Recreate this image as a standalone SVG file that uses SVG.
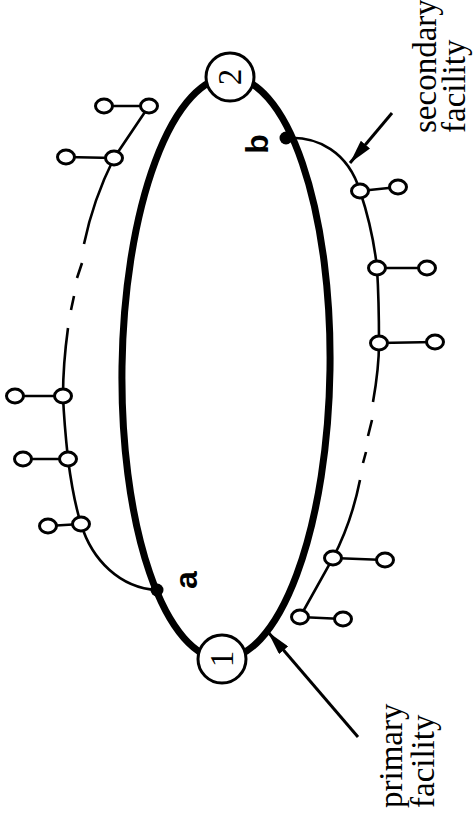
<svg xmlns="http://www.w3.org/2000/svg" width="476" height="823" viewBox="0 0 476 823">
<style>
.ring{fill:none;stroke:#000;stroke-width:7}
.wire{fill:none;stroke:#000;stroke-width:2.6;stroke-linecap:butt}
.arrow{fill:none;stroke:#000;stroke-width:3}
.big{fill:#fff;stroke:#000;stroke-width:3}
.small{fill:#fff;stroke:#000;stroke-width:3}
.dot{fill:#000}
.lbl{font-family:"Liberation Serif","Times New Roman",serif;font-size:33px;fill:#000}
.num{font-family:"Liberation Serif","Times New Roman",serif;font-size:33px;fill:#000;text-anchor:middle}
.pt{font-family:"Liberation Sans",Arial,sans-serif;font-weight:bold;font-size:32px;fill:#000;text-anchor:middle}
</style>
<defs>
<marker id="ah" viewBox="0 0 24 12" refX="24" refY="6" markerWidth="24" markerHeight="12" markerUnits="userSpaceOnUse" orient="auto">
<path d="M0,0 L24,6 L0,12 z" fill="#000"/>
</marker>
</defs>
<g id="connectors">
<ellipse class="ring" cx="226" cy="368" rx="104" ry="291" transform="rotate(0.8 226 368)"/>
<!-- secondary facility branch -->
<path class="wire" d="M286,138 C318,136 348,152 360,191 C368,215 374,240 377,268 Q379,300 379,343 C379,365 376,385 373,402"/>
<path class="wire" d="M372,420 L368,436 M366,452 L363,463"/>
<path class="wire" d="M360,480 C354,510 345,535 333,558 L300,617"/>
<!-- primary facility branch -->
<path class="wire" d="M149,106 L114,158 C102,182 90,215 84,244"/>
<path class="wire" d="M82,263 L77,278 M74,296 L71,310"/>
<path class="wire" d="M68,328 C65,350 63,375 63,396 C64,420 66,440 68,459 C71,482 75,505 81,524 C92,560 120,588 157,590"/>
<!-- pendants -->
<path class="wire" d="M360,191 L398,187 M377,268 L427,268 M379,343 L435,342 M333,558 L385,560 M300,617 L343,619"/>
<path class="wire" d="M149,106 L104,106 M114,158 L66,157 M63,396 L15,396 M68,459 L23,459 M81,524 L48,526"/>
<!-- arrows -->
<line class="arrow" x1="392" y1="113" x2="350" y2="163" marker-end="url(#ah)"/>
<line class="arrow" x1="358" y1="737" x2="268" y2="632" marker-end="url(#ah)"/>
</g>
<g id="node-1">
<circle class="big" cx="222" cy="659" r="24"/>
<text class="num" transform="translate(233,659) rotate(-90)">1</text>
</g>
<g id="node-2">
<circle class="big" cx="230" cy="77" r="24"/>
<text class="num" transform="translate(241,77) rotate(-90)">2</text>
</g>
<g id="point-a">
<circle class="dot" cx="157" cy="590" r="6.5"/>
<text class="pt" transform="translate(197,580) rotate(-90)">a</text>
</g>
<g id="point-b">
<circle class="dot" cx="286" cy="138" r="6.5"/>
<text class="pt" transform="translate(268,144) rotate(-90)">b</text>
</g>
<g id="sec-nodes">
<g id="s1"><ellipse class="small" cx="360" cy="191" rx="8.5" ry="7"/><ellipse class="small" cx="398" cy="187" rx="8.5" ry="7"/></g>
<g id="s2"><ellipse class="small" cx="377" cy="268" rx="8.5" ry="7"/><ellipse class="small" cx="427" cy="268" rx="8.5" ry="7"/></g>
<g id="s3"><ellipse class="small" cx="379" cy="343" rx="8.5" ry="7"/><ellipse class="small" cx="435" cy="342" rx="8.5" ry="7"/></g>
<g id="s4"><ellipse class="small" cx="333" cy="558" rx="8.5" ry="7"/><ellipse class="small" cx="385" cy="560" rx="8.5" ry="7"/></g>
<g id="s5"><ellipse class="small" cx="300" cy="617" rx="8.5" ry="7"/><ellipse class="small" cx="343" cy="619" rx="8.5" ry="7"/></g>
</g>
<g id="pri-nodes">
<g id="p1"><ellipse class="small" cx="149" cy="106" rx="8.5" ry="7"/><ellipse class="small" cx="104" cy="106" rx="8.5" ry="7"/></g>
<g id="p2"><ellipse class="small" cx="114" cy="158" rx="8.5" ry="7"/><ellipse class="small" cx="66" cy="157" rx="8.5" ry="7"/></g>
<g id="p3"><ellipse class="small" cx="63" cy="396" rx="8.5" ry="7"/><ellipse class="small" cx="15" cy="396" rx="8.5" ry="7"/></g>
<g id="p4"><ellipse class="small" cx="68" cy="459" rx="8.5" ry="7"/><ellipse class="small" cx="23" cy="459" rx="8.5" ry="7"/></g>
<g id="p5"><ellipse class="small" cx="81" cy="524" rx="8.5" ry="7"/><ellipse class="small" cx="48" cy="526" rx="8.5" ry="7"/></g>
</g>
<g id="labels">
<text class="lbl" transform="translate(436,133) rotate(-90)">secondary</text>
<text class="lbl" transform="translate(465,133) rotate(-90)">facility</text>
<text class="lbl" transform="translate(402,808) rotate(-90)">primary</text>
<text class="lbl" transform="translate(434,808) rotate(-90)">facility</text>
</g>
</svg>
